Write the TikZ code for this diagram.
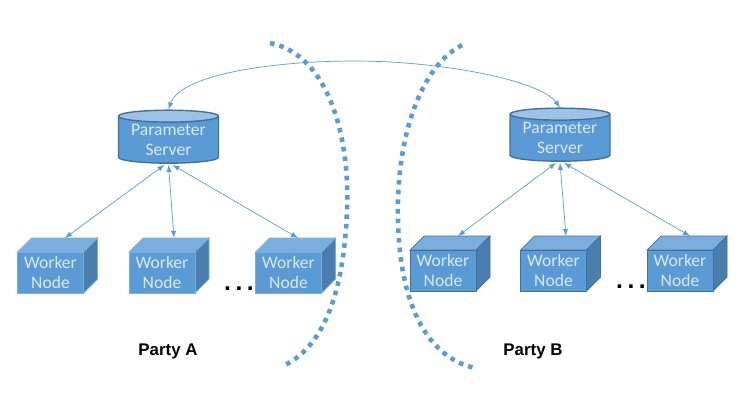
\documentclass[tikz,border=0pt]{standalone}
\usepackage{fontspec}
\setmainfont{Carlito}
\newfontfamily\partyfont{Liberation Sans}
\usetikzlibrary{positioning}
\usetikzlibrary{arrows,shapes}
\usetikzlibrary{calc}
\definecolor{boxblue}{HTML}{5B9BD5}
\definecolor{boxtop}{HTML}{7CAEDD}
\definecolor{boxside}{HTML}{4A7EAE}
\definecolor{boxedge}{HTML}{41719C}
\definecolor{captext}{HTML}{DCE9F6}
\tikzset{
  server/.style={shape=cylinder, shape border rotate=90, aspect=0.16, draw=boxedge, thick, cylinder uses custom fill,
    cylinder body fill=boxblue, cylinder end fill=boxtop!75!white, minimum width=2cm, minimum height=1.06cm, inner sep=0pt,
    text=captext, font=\fontsize{10}{11.4}\selectfont, align=center},
  worker/.style={rectangle, fill=boxblue, minimum width=1.32cm, minimum height=0.82cm, inner sep=0pt,
    text=captext, font=\fontsize{10}{11.4}\selectfont, align=center},
  link/.style={draw=boxblue, thin, -latex},
  both/.style={draw=boxblue, thin, latex-latex},
  wall/.style={draw=boxblue, line width=2.6pt, dash pattern=on 2.6pt off 2.9pt},
  party/.style={font=\partyfont\bfseries\fontsize{9.6}{11}\selectfont},
  dotrow/.style={font=\partyfont\bfseries\fontsize{14}{14}\selectfont, anchor=base, inner sep=0pt}
}
\begin{document}
\begin{tikzpicture}[x=0.02cm,y=-0.02cm]
  \useasboundingbox (0,0) rectangle (755,414);
  \def\dz{14};

  %servers
  \node[server] (psA) at (168.5,140) {Parameter\\Server};
  \node[server] (psB) at (560,138) {Parameter\\Server};

  %workers
  \foreach \x/\y/\tx/\edge/\name in {50.5/272.5/14.5/boxtop/wA1, 162/272.5/12/boxtop/wA2, 288.5/272.5/9.5/boxtop/wA3, 443/270.5/15/boxedge/wB1, 553.5/270.5/12.5/boxedge/wB2, 680/270.5/10/boxedge/wB3}{
    \filldraw[fill=boxtop,draw=\edge] (\x-33,\y-20.5) -- ++(\dz,-\dz) -- ++(66,0) -- ++(-\dz,\dz) -- cycle;
    \filldraw[fill=boxside,draw=\edge] (\x+33,\y-20.5) -- ++(\dz,-\dz) -- ++(0,41) -- ++(-\dz,\dz) -- cycle;
    \node[worker,draw=\edge] (\name) at (\x,\y) {Worker\\Node};
    \coordinate (\name top) at (\x+\tx,\y-34.5);
  }

  %links
  \foreach \name/\off in {wA1/-4, wA2/0, wA3/4}{
    \draw[both] ($(psA.south)+(\off,1)$) -- (\name top);
  }
  \foreach \name/\off in {wB1/-4, wB2/0, wB3/4}{
    \draw[both] ($(psB.south)+(\off,1)$) -- (\name top);
  }
  \coordinate (peak) at (355,61);
  \draw[link] (peak) .. controls (270,61) and (180,75) .. (psA.north);
  \draw[link] (peak) .. controls (440,61) and (540,80) .. (psB.north);

  %walls
  \coordinate (wallAs) at (270,43);
  \coordinate (wallAe) at (285,365);
  \coordinate (wallBs) at (462,45);
  \coordinate (wallBe) at (475,368);
  \draw[wall] (wallAs) .. controls (330,55) and (350,140) .. (347,210) .. controls (344,290) and (325,345) .. (wallAe);
  \draw[wall] (wallBs) .. controls (415,70) and (396,150) .. (398,220) .. controls (400,310) and (430,358) .. (wallBe);

  %dots and captions
  \node[dotrow] (dotsA) at (239,290) {.\kern2.6pt.\kern2.6pt.};
  \node[dotrow] (dotsB) at (631,288) {.\kern2.6pt.\kern2.6pt.};
  \node[party] (partyA) at (168,351) {Party A};
  \node[party] (partyB) at (533,351) {Party B};
\end{tikzpicture}
\end{document}
